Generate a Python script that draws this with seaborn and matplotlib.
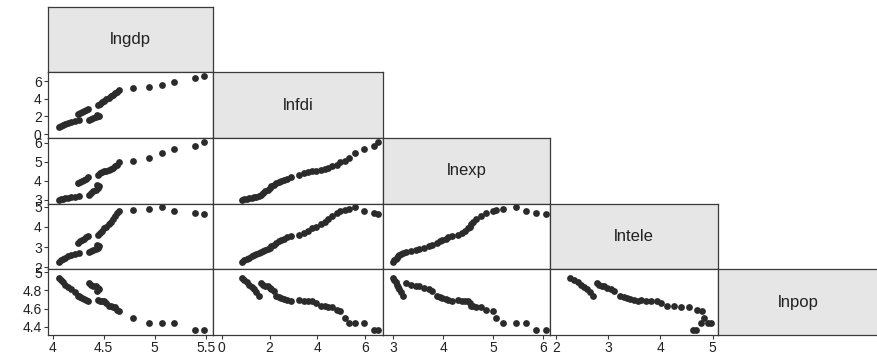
import matplotlib
matplotlib.use("Agg")
import matplotlib.pyplot as plt
import pandas as pd
import seaborn as sns

variables = ["lngdp", "lnfdi", "lnexp", "lntele", "lnpop"]

lnfdi = [0.86, 0.95, 1.05, 1.15, 1.25, 1.35, 1.45, 1.56,
         1.63, 1.72, 1.83, 1.92, 2.00, 2.08, 2.18,
         2.28, 2.38, 2.48, 2.60, 2.72, 2.88,
         3.25, 3.43, 3.60, 3.78, 3.95, 4.13, 4.30, 4.45, 4.62, 4.80,
         4.96, 5.17, 5.31, 5.58, 5.93, 6.35, 6.55]
lngdp = [4.06, 4.08, 4.10, 4.12, 4.15, 4.18, 4.22, 4.26,
         4.36, 4.38, 4.40, 4.42, 4.44, 4.45, 4.43,
         4.25, 4.27, 4.29, 4.31, 4.33, 4.35,
         4.44, 4.46, 4.48, 4.50, 4.52, 4.55, 4.57, 4.59, 4.61, 4.63,
         4.65, 4.79, 4.94, 5.07, 5.19, 5.39, 5.48]
lnexp = [3.00, 3.02, 3.05, 3.07, 3.10, 3.12, 3.15, 3.20,
         3.25, 3.35, 3.45, 3.52, 3.62, 3.72, 3.78,
         3.88, 3.93, 3.98, 4.05, 4.10, 4.18,
         4.30, 4.38, 4.44, 4.50, 4.53, 4.56, 4.60, 4.66, 4.75, 4.85,
         5.00, 5.05, 5.20, 5.45, 5.65, 5.85, 6.05]
lntele = [2.28, 2.34, 2.42, 2.48, 2.54, 2.60, 2.66, 2.72,
          2.78, 2.82, 2.88, 2.92, 2.98, 3.05, 3.12,
          3.22, 3.30, 3.36, 3.42, 3.50, 3.57,
          3.62, 3.72, 3.82, 3.93, 4.02, 4.13, 4.25, 4.40, 4.55, 4.70,
          4.80, 4.84, 4.90, 4.97, 4.77, 4.68, 4.62]
lnpop = [4.93, 4.91, 4.89, 4.86, 4.84, 4.81, 4.78, 4.74,
         4.88, 4.86, 4.85, 4.85, 4.83, 4.81, 4.79,
         4.74, 4.73, 4.72, 4.70, 4.69, 4.68,
         4.69, 4.68, 4.68, 4.68, 4.66, 4.63, 4.63, 4.62, 4.62, 4.58,
         4.57, 4.50, 4.44, 4.44, 4.44, 4.36, 4.36]

ticks = {
    "lngdp": [4, 4.5, 5, 5.5],
    "lnfdi": [0, 2, 4, 6],
    "lnexp": [3, 4, 5, 6],
    "lntele": [2, 3, 4, 5],
    "lnpop": [4.4, 4.6, 4.8, 5],
}

df = pd.DataFrame({"lngdp": lngdp, "lnfdi": lnfdi, "lnexp": lnexp,
                   "lntele": lntele, "lnpop": lnpop})

sns.set_theme(style="white")
plt.rcParams["font.family"] = ["Liberation Sans", "DejaVu Sans"]

xlims = {"lngdp": (3.955, 5.57), "lnfdi": (-0.36, 6.74),
         "lnexp": (2.8, 6.13), "lntele": (1.89, 5.1)}
ylims = {"lnfdi": (-0.42, 7.0), "lnexp": (2.79, 6.26),
         "lntele": (1.9, 5.16), "lnpop": (4.31, 5.03)}

fig = plt.figure(figsize=(8.78, 3.54), dpi=100)
gs = fig.add_gridspec(5, 5, left=48 / 878, right=1.0,
                      top=1 - 6.5 / 354, bottom=1 - 335 / 354,
                      wspace=0, hspace=0,
                      width_ratios=[165, 170, 167, 168, 160])

edge = "#3a3a3a"
for i, yvar in enumerate(variables):
    for j, xvar in enumerate(variables[:i + 1]):
        ax = fig.add_subplot(gs[i, j])
        for sp in ax.spines.values():
            sp.set_visible(True)
            sp.set_color(edge)
            sp.set_linewidth(0.9)
        if i == j:
            ax.set_facecolor("#e6e6e6")
            ax.text(0.5, 0.5, xvar, transform=ax.transAxes, ha="center",
                    va="center", fontsize=12, color="#222222")
            ax.set_xticks([])
            ax.set_yticks([])
            continue
        sns.scatterplot(data=df, x=xvar, y=yvar, ax=ax, color="#2b2b2b",
                        s=24, linewidth=0, legend=False)
        ax.set_xlim(xlims[xvar])
        ax.set_ylim(ylims[yvar])
        ax.set_xlabel("")
        ax.set_ylabel("")
        if j == 0:
            ax.set_yticks(ticks[yvar])
            ax.set_yticklabels([f"{t:g}" for t in ticks[yvar]])
        else:
            ax.set_yticks([])
        if i == len(variables) - 1:
            ax.set_xticks(ticks[xvar])
            ax.set_xticklabels([f"{t:g}" for t in ticks[xvar]])
        else:
            ax.set_xticks([])
        ax.tick_params(axis="both", which="major", direction="out",
                       length=3, width=0.8, color=edge, labelsize=10,
                       labelcolor="#222222", pad=1.5,
                       left=(j == 0), bottom=(i == len(variables) - 1))

fig.savefig("out.png", dpi=100, facecolor="white")
